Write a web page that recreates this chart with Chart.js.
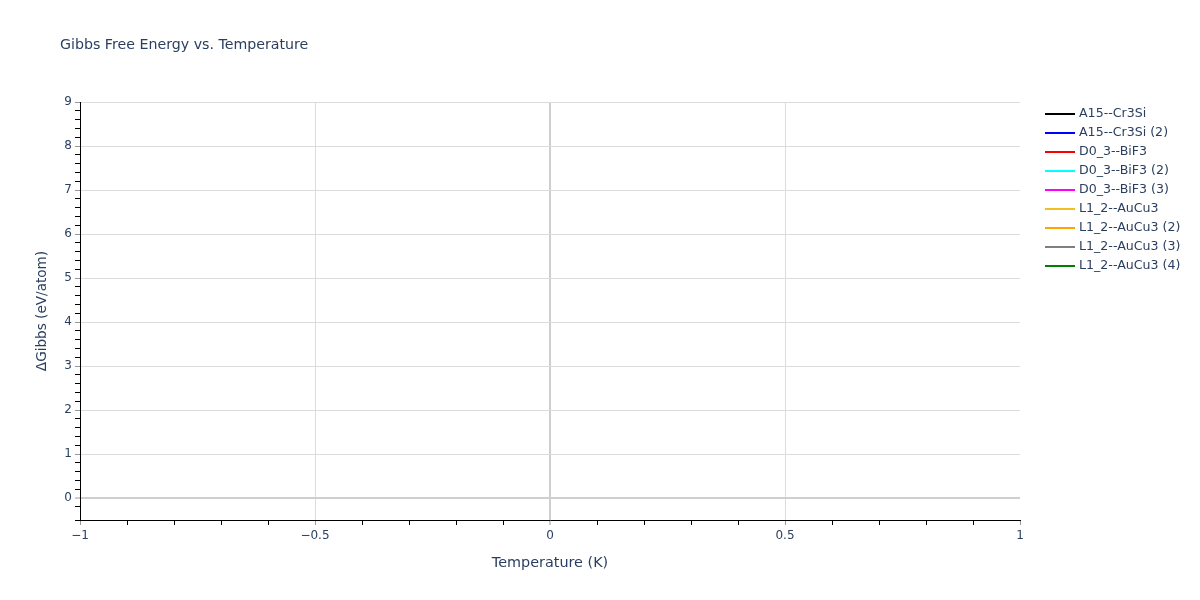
<!DOCTYPE html>
<html>
<head>
<meta charset="utf-8">
<title>Gibbs Free Energy vs. Temperature</title>
<script src="https://cdn.jsdelivr.net/npm/chart.js@4"></script>
<style>
  body { margin: 0; background: #fff; }
  #wrap { width: 1200px; height: 600px; position: relative; }
</style>
</head>
<body>
<div id="wrap"><canvas id="chart"></canvas></div>
<script>
const FONT = '"DejaVu Sans", Verdana, sans-serif';
const TEXT = '#2a3f5f';

// series (the reference shows no visible data, only the legend)
const seriesNames = ['A15--Cr3Si', 'A15--Cr3Si (2)', 'D0_3--BiF3', 'D0_3--BiF3 (2)', 'D0_3--BiF3 (3)',
  'L1_2--AuCu3', 'L1_2--AuCu3 (2)', 'L1_2--AuCu3 (3)', 'L1_2--AuCu3 (4)'];
const seriesColors = ['#000000', '#0000ff', '#ff0000', '#00ffff', '#ff00ff',
  '#f0c020', '#ffa500', '#808080', '#008000'];
const temperature = [];
const gibbsValues = [[], [], [], [], [], [], [], [], []];

// axis ranges and labelled ticks
const xRange = [-1, 1];
const yRange = [-0.5, 9];
const xTickLabels = [-1, -0.5, 0, 0.5, 1];
const yTickLabels = [0, 1, 2, 3, 4, 5, 6, 7, 8, 9];

const fmt = (v) => String(v).replace('-', '\u2212');
const isLabelled = (list, v) => list.some((t) => Math.abs(t - v) < 1e-6);

const $chart = document.querySelector('#chart');
const context = $chart.getContext('2d');

// title, axis titles and legend drawn at plotly-like positions
const decorations = {
  id: 'decorations',
  afterDraw(chart) {
    const ctx = chart.ctx;
    const area = chart.chartArea;
    ctx.save();
    ctx.fillStyle = TEXT;
    ctx.textBaseline = 'middle';

    ctx.font = '14.2px ' + FONT;
    ctx.textAlign = 'left';
    ctx.fillText('Gibbs Free Energy vs. Temperature', 60, 45);

    ctx.font = '14.4px ' + FONT;
    ctx.textAlign = 'center';
    ctx.fillText('Temperature (K)', (area.left + area.right) / 2, 563);
    ctx.save();
    ctx.font = '13.6px ' + FONT;
    ctx.translate(42, (area.top + area.bottom) / 2);
    ctx.rotate(-Math.PI / 2);
    ctx.fillText('\u0394Gibbs (eV/atom)', 0, 0);
    ctx.restore();

    ctx.font = '12.6px ' + FONT;
    ctx.textAlign = 'left';
    chart.data.datasets.forEach((ds, i) => {
      const y = 114 + i * 19;
      ctx.strokeStyle = ds.borderColor;
      ctx.lineWidth = 2;
      ctx.beginPath();
      ctx.moveTo(1045, y);
      ctx.lineTo(1075, y);
      ctx.stroke();
      ctx.fillStyle = TEXT;
      ctx.fillText(ds.label, 1079, y);
    });
    ctx.restore();
  }
};

new Chart(context, {
  type: 'line',
  data: {
    labels: temperature,
    datasets: seriesNames.map((name, i) => ({
      label: name,
      data: gibbsValues[i],
      borderColor: seriesColors[i],
      backgroundColor: seriesColors[i],
      borderWidth: 2,
      pointRadius: 0
    }))
  },
  options: {
    responsive: true,
    maintainAspectRatio: false,
    animation: false,
    layout: { padding: { left: 0, right: 180, top: 102, bottom: 0 } },
    plugins: {
      legend: { display: false },
      title: { display: false },
      tooltip: { enabled: false }
    },
    scales: {
      x: {
        type: 'linear',
        min: xRange[0],
        max: xRange[1],
        afterFit(scale) { scale.height = 80; },
        border: { display: true, color: '#000', width: 1 },
        grid: {
          tickLength: 5,
          color: (c) => {
            const v = c.tick ? c.tick.value : 0;
            if (Math.abs(v) < 1e-6) return '#cfcfcf';
            if (Math.abs(Math.abs(v) - 0.5) < 1e-6) return '#dcdcdc';
            return 'rgba(0,0,0,0)';
          },
          lineWidth: (c) => (c.tick && Math.abs(c.tick.value) < 1e-6 ? 2 : 1),
          tickColor: (c) => (c.tick && isLabelled(xTickLabels, c.tick.value) ? '#999' : '#000'),
          tickWidth: 1
        },
        ticks: {
          stepSize: 0.1,
          autoSkip: false,
          maxRotation: 0,
          padding: 4,
          color: TEXT,
          font: { family: FONT, size: 12 },
          callback: (v) => {
            const hit = xTickLabels.find((t) => Math.abs(t - v) < 1e-6);
            return hit === undefined ? '' : fmt(hit);
          }
        }
      },
      y: {
        type: 'linear',
        min: yRange[0],
        max: yRange[1],
        afterFit(scale) { scale.width = 80; },
        border: { display: true, color: '#000', width: 1 },
        grid: {
          tickLength: 5,
          color: (c) => {
            const v = c.tick ? c.tick.value : 1;
            if (Math.abs(v) < 1e-6) return '#cfcfcf';
            if (isLabelled(yTickLabels, v)) return '#dcdcdc';
            return 'rgba(0,0,0,0)';
          },
          lineWidth: (c) => (c.tick && Math.abs(c.tick.value) < 1e-6 ? 2 : 1),
          tickColor: (c) => (c.tick && isLabelled(yTickLabels, c.tick.value) ? '#999' : '#000'),
          tickWidth: 1
        },
        ticks: {
          stepSize: 0.2,
          autoSkip: false,
          padding: 3,
          color: TEXT,
          font: { family: FONT, size: 12 },
          callback: (v) => {
            const hit = yTickLabels.find((t) => Math.abs(t - v) < 1e-6);
            return hit === undefined ? '' : fmt(hit);
          }
        }
      }
    }
  },
  plugins: [decorations]
});
</script>
</body>
</html>
